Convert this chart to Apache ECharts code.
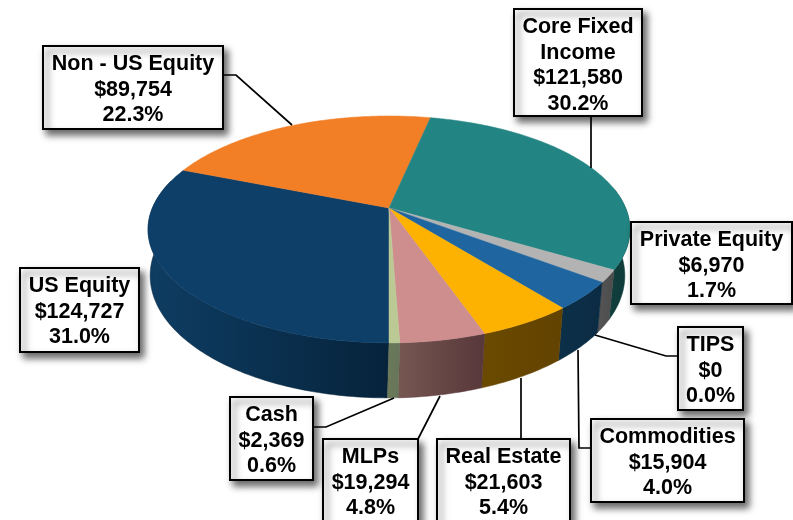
<!DOCTYPE html>
<html>
<head>
<meta charset="utf-8">
<style>html,body{margin:0;padding:0;background:#fff}#c{width:793px;height:520px}</style>
<script src="https://cdn.jsdelivr.net/npm/echarts@6/dist/echarts.min.js"></script>
</head>
<body>
<div id="c"></div>
<script>
// Data, clockwise from the bottom of the pie
const categories = ['US Equity','Non - US Equity','Core Fixed\nIncome','Private Equity','TIPS','Commodities','Real Estate','MLPs','Cash'];
const amounts = [124727,89754,121580,6970,0,15904,21603,19294,2369];
const percents = [31.0,22.3,30.2,1.7,0.0,4.0,5.4,4.8,0.6];

// Styles
const topColors = ['#0d3f69','#f27e26','#238583','#b3b3b3','#a5a5a5','#1f65a0','#fdb100','#cf8e8e','#bbc995'];
const wallFrom = ['#0e3d63','#7a3f13','#103f3d','#565656','#555555','#0c3049','#6b4a00','#775752','#6c7a59'];
const wallTo = ['#06233b','#7a3f13','#0f3a38','#4c4c4c','#555555','#0b2b43','#624300','#573739','#66745a'];

// Label boxes [left, top, right, bottom] and leader lines, in page pixels
const boxes = [
  [20,268,139,352],[43,46,223,129],[514,9,642,116],[631,222,792,304],
  [678,327,743,410],[591,419,744,502],[437,439,570,530],[323,439,418,530],[230,397,313,480]
];
const leaders = [
  null,
  [[223,75],[236,75],[292,125]],
  [[591,116],[591,168]],
  null,
  [[678,356],[666,356],[595,335]],
  [[591,448],[579,448],[578,350]],
  [[521,439],[521,378]],
  [[418,439],[440,396]],
  [[313,427],[326,427],[394,398]]
];

// Perspective projection of the tilted disc
const cx = 389, cy = 208, rx = 236.6, ry = 109.4, persp = 0.189, depth = 44.6, baseShrink = 0.985, baseShift = -1.5;
function project(deg, bottom) {
  const a = deg * Math.PI / 180, s = Math.sin(a), c = Math.cos(a), w = 1 + persp * c;
  const X = rx * s / w, Y = -ry * c / w;
  return bottom
    ? [cx + X * baseShrink + baseShift, cy + Y + depth / w]
    : [cx + X, cy + Y];
}
const total = amounts.reduce((a, b) => a + b, 0);
const spans = [];
amounts.reduce((start, v) => { const e = start + v / total * 360; spans.push([start, e]); return e; }, 180);

function arc(a0, a1, bottom) {
  const n = Math.max(1, Math.ceil(a1 - a0)), pts = [];
  for (let i = 0; i <= n; i++) pts.push(project(a0 + (a1 - a0) * i / n, bottom));
  return pts;
}
// Only the front half of the rim is ever visible; angles run from 180 to 540.
function visibleSpan(sp) {
  let a0 = Math.max(sp[0], 180), a1 = Math.min(sp[1], 285);
  if (a1 > a0) return [a0, a1];
  a0 = Math.max(sp[0], 440); a1 = Math.min(sp[1], 540);
  return a1 > a0 ? [a0, a1] : null;
}
function renderWall(params) {
  const i = params.dataIndex, v = visibleSpan(spans[i]);
  if (!v) return { type: 'group', children: [] };
  const pts = arc(v[0], v[1], false).concat(arc(v[0], v[1], true).reverse());
  const fill = { type: 'linear', x: 0, y: 0, x2: 1, y2: 0,
    colorStops: [{ offset: 0, color: wallFrom[i] }, { offset: 1, color: wallTo[i] }] };
  return { type: 'polygon', shape: { points: pts }, style: { fill: fill, stroke: wallTo[i], lineWidth: 0.5 } };
}
function renderTop(params) {
  const i = params.dataIndex, sp = spans[i];
  if (sp[1] - sp[0] <= 0) return { type: 'group', children: [] };
  const pts = [[cx, cy]].concat(arc(sp[0], sp[1], false));
  return { type: 'polygon', shape: { points: pts }, style: { fill: topColors[i], stroke: topColors[i], lineWidth: 0.5 } };
}
function renderLabel(params) {
  const i = params.dataIndex, b = boxes[i], kids = [];
  const text = categories[i] + '\n$' + amounts[i].toLocaleString('en-US') + '\n' + percents[i].toFixed(1) + '%';
  if (leaders[i]) kids.push({ type: 'polyline', shape: { points: leaders[i] },
    style: { fill: null, stroke: '#000', lineWidth: 1.7 } });
  kids.push({ type: 'rect', shape: { x: b[0], y: b[1], width: b[2] - b[0], height: b[3] - b[1] },
    style: { fill: '#fff', stroke: '#000', lineWidth: 2, shadowBlur: 7, shadowOffsetX: 4, shadowOffsetY: 5, shadowColor: 'rgba(0,0,0,0.6)' } });
  const lines = text.split('\n').length;
  kids.push({ type: 'text', style: { text: text, x: (b[0] + b[2]) / 2, y: b[1] + 5.5 + lines * 25.5 / 2,
    align: 'center', verticalAlign: 'middle', fill: '#000', lineHeight: 25.5,
    fontFamily: '"Liberation Sans", Arial, sans-serif', fontWeight: 'bold', fontSize: 21.5 } });
  return { type: 'group', children: kids };
}
const chart = echarts.init(document.getElementById('c'), null, { renderer: 'canvas' });
const items = categories.map((c, i) => ({ name: c.replace('\n', ' '), value: amounts[i] }));
chart.setOption({
  animation: false,
  backgroundColor: '#fff',
  series: [
    { type: 'custom', coordinateSystem: 'none', name: 'walls', z: 1, silent: true, renderItem: renderWall, data: items },
    { type: 'custom', coordinateSystem: 'none', name: 'tops', z: 2, silent: true, renderItem: renderTop, data: items },
    { type: 'custom', coordinateSystem: 'none', name: 'labels', z: 3, silent: true, renderItem: renderLabel, data: items }
  ]
});
</script>
</body>
</html>
